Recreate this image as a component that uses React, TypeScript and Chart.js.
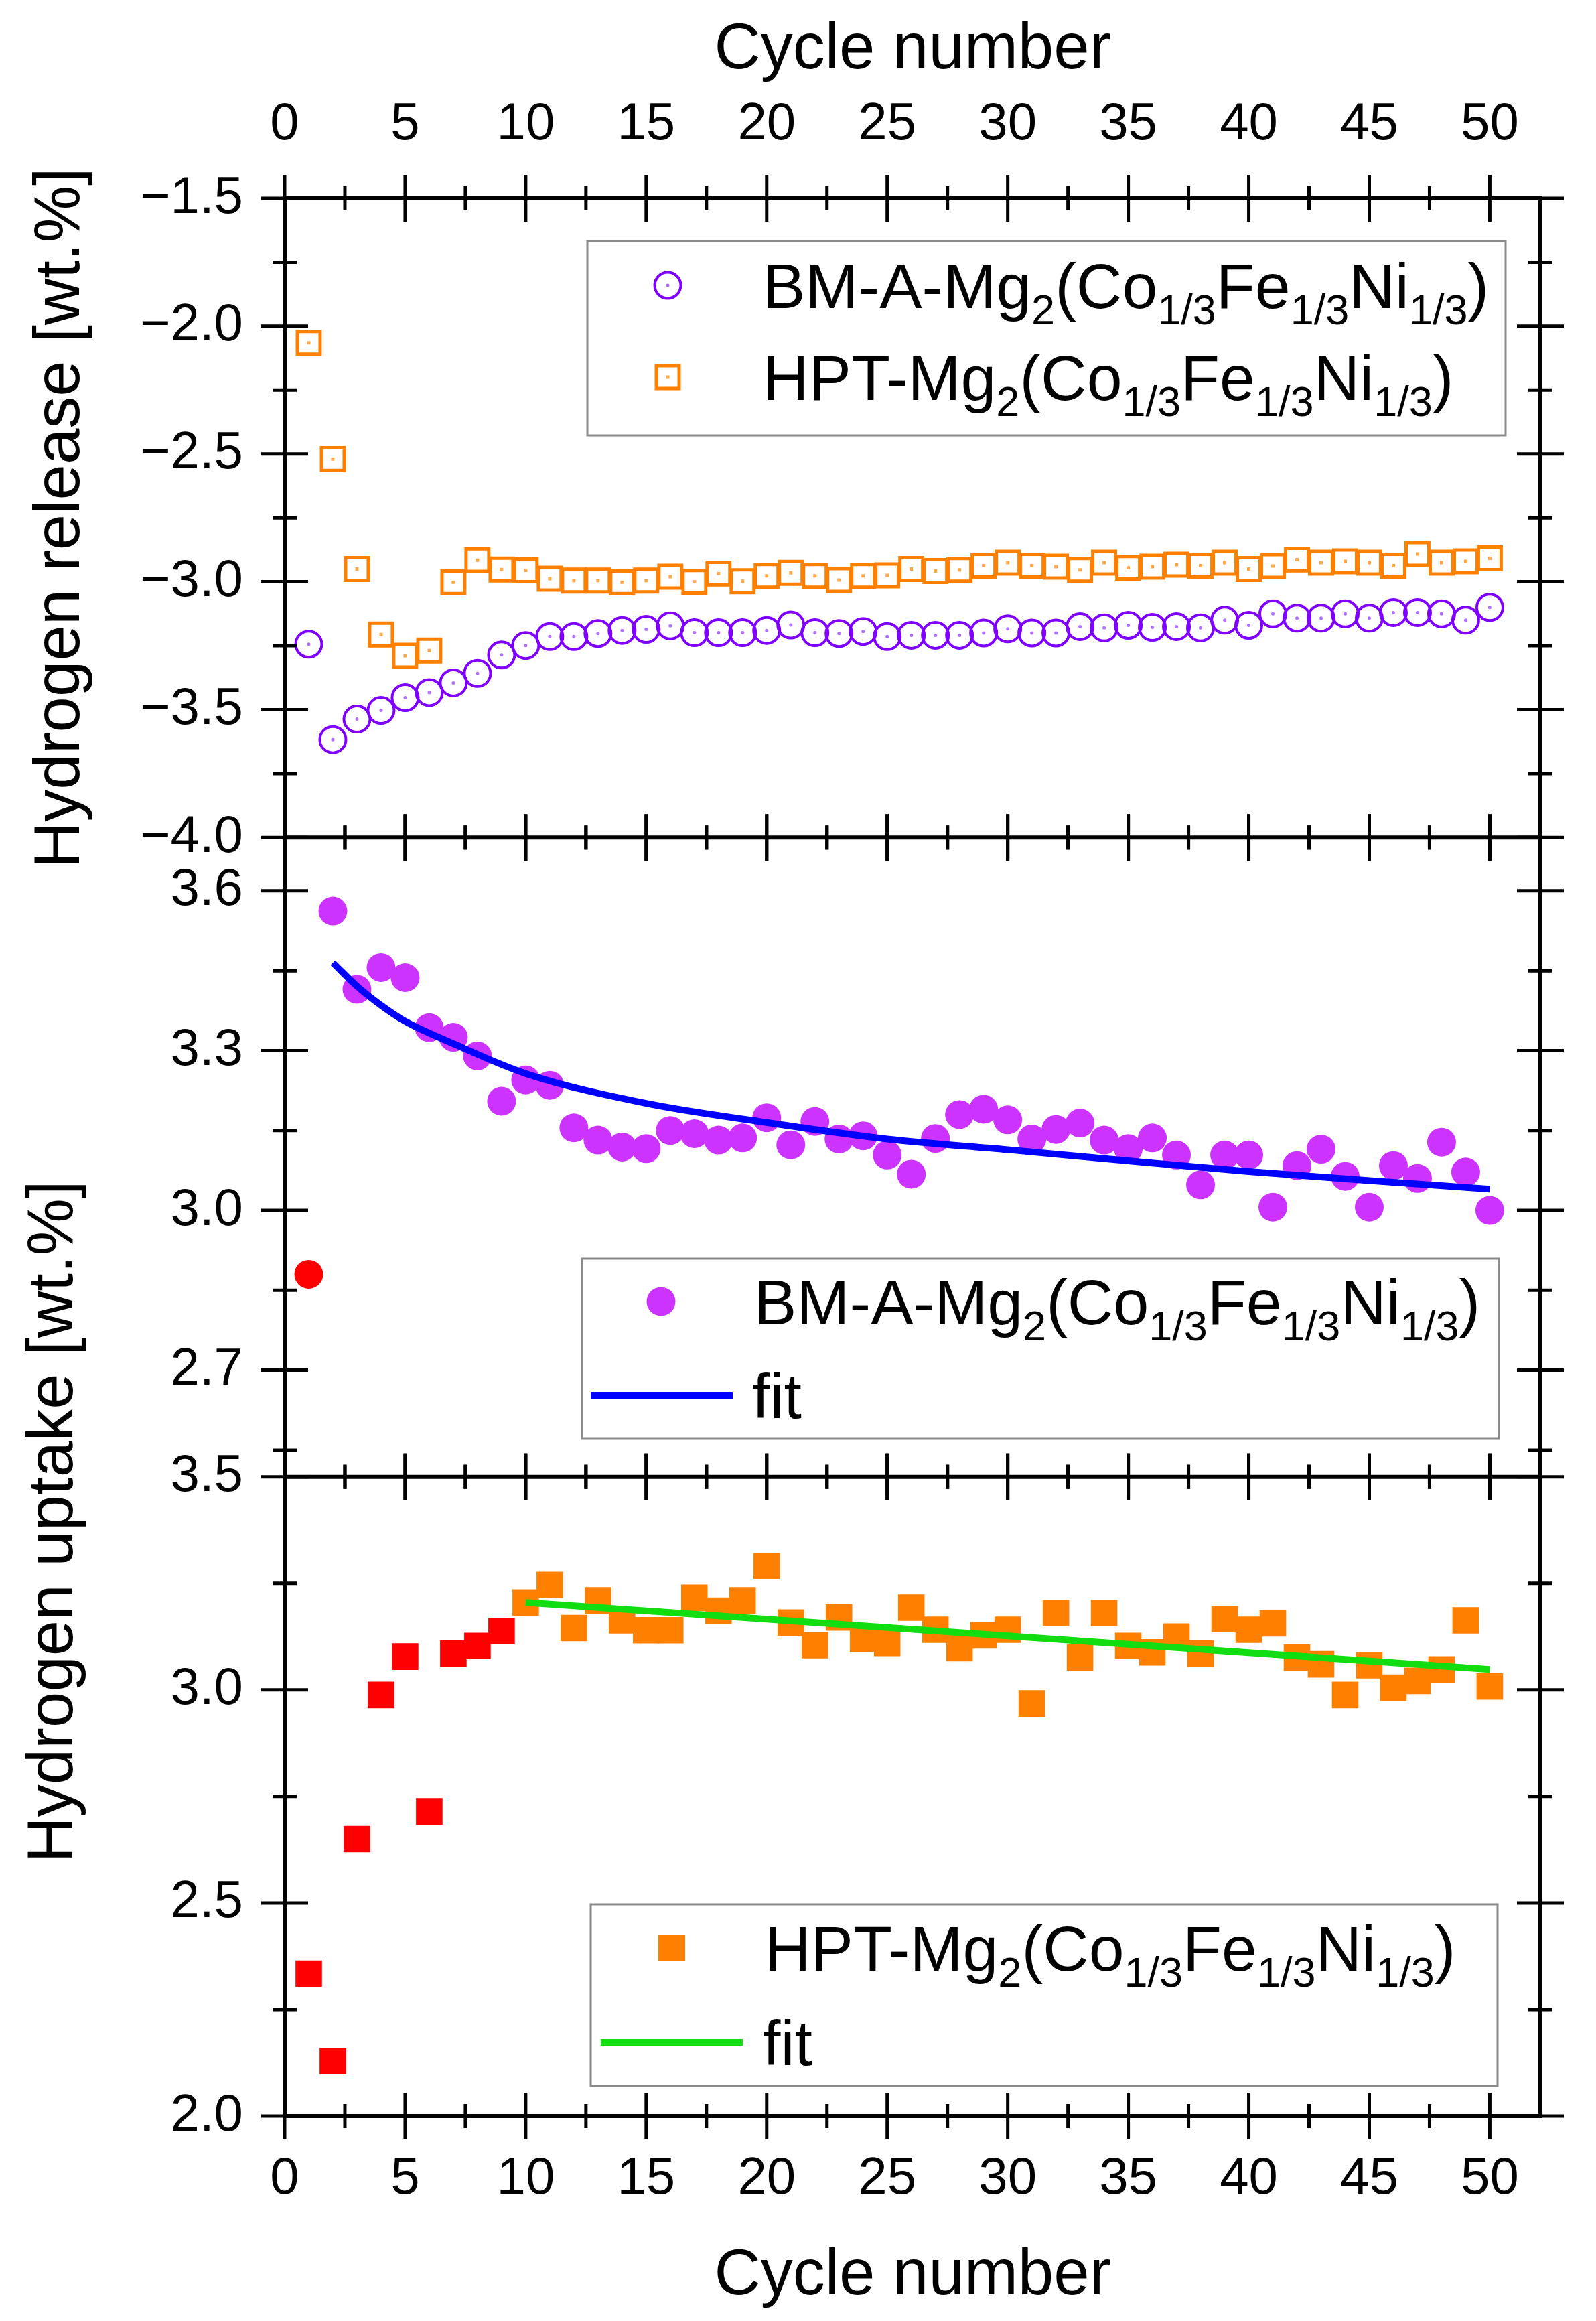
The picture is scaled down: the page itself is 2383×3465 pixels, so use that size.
import { useEffect, useRef } from "react";
import { Chart, registerables, type ChartConfiguration, type Plugin } from "chart.js";

Chart.register(...registerables);

const FONT = "'Liberation Sans', Arial, Helvetica, sans-serif";

const cycles = [
  1, 2, 3, 4, 5, 6, 7, 8, 9, 10, 11, 12, 13, 14, 15, 16, 17, 18, 19, 20, 21, 22, 23, 24, 25,
  26, 27, 28, 29, 30, 31, 32, 33, 34, 35, 36, 37, 38, 39, 40, 41, 42, 43, 44, 45, 46, 47, 48, 49, 50,
];

// top panel: hydrogen release
const releaseBm = [
  -3.244, -3.617, -3.537, -3.503, -3.453, -3.433, -3.395, -3.358, -3.286, -3.249,
  -3.214, -3.214, -3.202, -3.19, -3.186, -3.172, -3.199, -3.199, -3.199, -3.19,
  -3.169, -3.199, -3.202, -3.194, -3.214, -3.209, -3.209, -3.209, -3.2, -3.184,
  -3.2, -3.2, -3.175, -3.18, -3.17, -3.178, -3.175, -3.18, -3.15, -3.17,
  -3.125, -3.142, -3.142, -3.125, -3.142, -3.12, -3.12, -3.125, -3.15, -3.1,
];
const releaseHpt = [
  -2.065, -2.52, -2.95, -3.206, -3.289, -3.269, -3.002, -2.915, -2.952, -2.955,
  -2.988, -2.995, -2.995, -3.002, -2.995, -2.98, -3.0, -2.968, -2.998, -2.977,
  -2.965, -2.977, -2.993, -2.977, -2.975, -2.95, -2.958, -2.953, -2.937, -2.925,
  -2.937, -2.941, -2.953, -2.925, -2.945, -2.941, -2.933, -2.937, -2.925, -2.95,
  -2.938, -2.913, -2.925, -2.92, -2.925, -2.937, -2.891, -2.925, -2.92, -2.908,
];

// middle panel: BM-A uptake (cycle 1 drawn red)
const uptakeBm = [
  2.88, 3.562, 3.415, 3.456, 3.437, 3.343, 3.325, 3.29, 3.205, 3.245,
  3.235, 3.155, 3.132, 3.119, 3.116, 3.15, 3.144, 3.132, 3.136, 3.174,
  3.123, 3.167, 3.134, 3.14, 3.104, 3.068, 3.135, 3.18, 3.19, 3.17,
  3.134, 3.152, 3.164, 3.132, 3.116, 3.136, 3.104, 3.048, 3.104, 3.104,
  3.006, 3.084, 3.115, 3.064, 3.006, 3.084, 3.06, 3.128, 3.072, 3.0,
];
const bmFitX = [2, 3, 4, 5, 7, 10, 15, 20, 25, 30, 35, 40, 45, 50];
const bmFitY = [3.465, 3.421, 3.385, 3.355, 3.313, 3.257, 3.201, 3.165, 3.134, 3.114, 3.093, 3.073, 3.056, 3.04];
const bmFirstFitted = 2;

// bottom panel: HPT uptake (cycles 1-9 drawn red)
const uptakeHpt = [
  2.334, 2.129, 2.65, 2.988, 3.078, 2.715, 3.085, 3.103, 3.138, 3.205,
  3.246, 3.145, 3.21, 3.163, 3.14, 3.14, 3.216, 3.186, 3.21, 3.29,
  3.158, 3.105, 3.17, 3.12, 3.11, 3.193, 3.141, 3.098, 3.128, 3.141,
  2.968, 3.18, 3.076, 3.18, 3.103, 3.088, 3.125, 3.085, 3.166, 3.141,
  3.156, 3.076, 3.06, 2.988, 3.058, 3.005, 3.021, 3.048, 3.163, 3.008,
];
const hptFitX = [10, 50];
const hptFitY = [3.205, 3.048];
const hptFirstFitted = 10;

const xMajorTicks = [0, 5, 10, 15, 20, 25, 30, 35, 40, 45, 50];
const xMinorTicks = [2.5, 7.5, 12.5, 17.5, 22.5, 27.5, 32.5, 37.5, 42.5, 47.5];
const releaseMajorTicks = [-4.0, -3.5, -3.0, -2.5, -2.0, -1.5];
const releaseMinorTicks = [-3.75, -3.25, -2.75, -2.25, -1.75];
const bmMajorTicks = [2.7, 3.0, 3.3, 3.6];
const bmMinorTicks = [2.55, 2.85, 3.15, 3.45];
const hptMajorTicks = [2.0, 2.5, 3.0, 3.5];
const hptMinorTicks = [2.25, 2.75, 3.25];

const VIOLET = "#8000ff";
const VIOLET_DOT = "#b070ff";
const ORANGE = "#ff8000";
const ORANGE_DOT = "#ffa848";
const MAGENTA = "#cc33ff";
const RED = "#ff0000";
const BLUE = "#0000ff";
const GREEN = "#11dd11";

const W = 2383;
const H = 3465;

const points = (xs: number[], ys: number[]) => xs.map((x, i) => ({ x, y: ys[i] }));

const formatTick = (v: number) => (v < 0 ? `\u2212${Math.abs(v).toFixed(1)}` : v.toFixed(1));

type Segment = { text: string; sub?: boolean };
const compound = (prefix: string): Segment[] => [
  { text: `${prefix}-Mg` },
  { text: "2", sub: true },
  { text: "(Co" },
  { text: "1/3", sub: true },
  { text: "Fe" },
  { text: "1/3", sub: true },
  { text: "Ni" },
  { text: "1/3", sub: true },
  { text: ")" },
];

type Marker = "openCircle" | "openSquare" | "circle" | "square" | "line";
type LegendRow = { marker: Marker; color: string; y: number; markerX: number; textX: number; segments: Segment[] };
type LegendBox = { box: [number, number, number, number]; rows: LegendRow[] };

const legendBoxes: LegendBox[] = [
  {
    box: [877, 360, 2248, 650],
    rows: [
      { marker: "openCircle", color: VIOLET, y: 426, markerX: 997, textX: 1139, segments: compound("BM-A") },
      { marker: "openSquare", color: ORANGE, y: 563, markerX: 997, textX: 1139, segments: compound("HPT") },
    ],
  },
  {
    box: [869, 1879, 2238, 2148],
    rows: [
      { marker: "circle", color: MAGENTA, y: 1943, markerX: 987, textX: 1126, segments: compound("BM-A") },
      { marker: "line", color: BLUE, y: 2083, markerX: 988, textX: 1123, segments: [{ text: "fit" }] },
    ],
  },
  {
    box: [882, 2843, 2236, 3114],
    rows: [
      { marker: "square", color: ORANGE, y: 2908, markerX: 1003, textX: 1142, segments: compound("HPT") },
      { marker: "line", color: GREEN, y: 3049, markerX: 1003, textX: 1139, segments: [{ text: "fit" }] },
    ],
  },
];

function drawMarker(ctx: CanvasRenderingContext2D, marker: Marker, color: string, x: number, y: number) {
  ctx.save();
  if (marker === "openCircle") {
    ctx.strokeStyle = color;
    ctx.lineWidth = 4;
    ctx.beginPath();
    ctx.arc(x, y, 19.5, 0, Math.PI * 2);
    ctx.stroke();
    ctx.fillStyle = VIOLET_DOT;
    ctx.beginPath();
    ctx.arc(x, y, 2.5, 0, Math.PI * 2);
    ctx.fill();
  } else if (marker === "openSquare") {
    ctx.strokeStyle = color;
    ctx.lineWidth = 5;
    ctx.strokeRect(x - 17, y - 17, 34, 34);
    ctx.fillStyle = ORANGE_DOT;
    ctx.fillRect(x - 2.5, y - 2.5, 5, 5);
  } else if (marker === "circle") {
    ctx.fillStyle = color;
    ctx.beginPath();
    ctx.arc(x, y, 21.5, 0, Math.PI * 2);
    ctx.fill();
  } else if (marker === "square") {
    ctx.fillStyle = color;
    ctx.fillRect(x - 20, y - 20, 40, 40);
  } else {
    ctx.strokeStyle = color;
    ctx.lineWidth = 10;
    ctx.beginPath();
    ctx.moveTo(x - 106, y);
    ctx.lineTo(x + 106, y);
    ctx.stroke();
  }
  ctx.restore();
}

function drawRichText(ctx: CanvasRenderingContext2D, segments: Segment[], x: number, centerY: number) {
  const baseline = centerY + 34;
  let cx = x;
  ctx.fillStyle = "#000";
  ctx.textAlign = "left";
  ctx.textBaseline = "alphabetic";
  for (const seg of segments) {
    ctx.font = seg.sub ? `63px ${FONT}` : `95px ${FONT}`;
    ctx.fillText(seg.text, cx, seg.sub ? baseline + 24 : baseline);
    cx += ctx.measureText(seg.text).width;
  }
}

const panels = [
  { id: "yRelease", major: releaseMajorTicks, minor: releaseMinorTicks },
  { id: "yBm", major: bmMajorTicks, minor: bmMinorTicks },
  { id: "yHpt", major: hptMajorTicks, minor: hptMinorTicks },
];

const framePlugin: Plugin<"scatter"> = {
  id: "panelFrame",
  afterDraw(chart) {
    const ctx = chart.ctx;
    const xs = chart.scales.x;
    const { left, right, top, bottom } = chart.chartArea;
    const line = (x1: number, y1: number, x2: number, y2: number) => {
      ctx.beginPath();
      ctx.moveTo(x1, y1);
      ctx.lineTo(x2, y2);
      ctx.stroke();
    };
    ctx.save();
    ctx.strokeStyle = "#000";
    ctx.lineWidth = 6;
    ctx.strokeRect(left, top, right - left, bottom - top);
    for (const panel of panels) {
      const ys = chart.scales[panel.id];
      ctx.lineWidth = 6;
      line(left, ys.top, right, ys.top);
      ctx.lineWidth = 5;
      for (const edge of [ys.top, ys.bottom]) {
        for (const v of xMajorTicks) {
          const px = xs.getPixelForValue(v);
          line(px, edge - 35, px, edge + 35);
        }
        for (const v of xMinorTicks) {
          const px = xs.getPixelForValue(v);
          line(px, edge - 18, px, edge + 18);
        }
      }
      for (const side of [left, right]) {
        for (const v of panel.major) {
          const py = ys.getPixelForValue(v);
          line(side - 35, py, side + 35, py);
        }
        for (const v of panel.minor) {
          const py = ys.getPixelForValue(v);
          line(side - 18, py, side + 18, py);
        }
      }
    }

    // y title shared by the two uptake panels
    ctx.save();
    ctx.translate(82, 2272);
    ctx.rotate(-Math.PI / 2);
    ctx.fillStyle = "#000";
    ctx.font = `96px ${FONT}`;
    ctx.textAlign = "center";
    ctx.textBaseline = "middle";
    ctx.fillText("Hydrogen uptake [wt.%]", 0, 0);
    ctx.restore();

    for (const legend of legendBoxes) {
      const [x1, y1, x2, y2] = legend.box;
      ctx.strokeStyle = "#8a8a8a";
      ctx.lineWidth = 3;
      ctx.strokeRect(x1, y1, x2 - x1, y2 - y1);
      for (const row of legend.rows) {
        drawMarker(ctx, row.marker, row.color, row.markerX, row.y);
        drawRichText(ctx, row.segments, row.textX, row.y);
      }
    }
    ctx.restore();
  },
};

const tickFont = { family: FONT, size: 78 };
const titleFont = { family: FONT, size: 96 };

function yAxis(min: number, max: number, major: number[], title?: string) {
  return {
    type: "linear" as const,
    position: "left" as const,
    stack: "panels",
    stackWeight: 1,
    min,
    max,
    grid: { display: false, drawTicks: false },
    border: { display: false },
    ticks: {
      color: "#000",
      font: tickFont,
      padding: 62,
      autoSkip: false,
      callback: (v: number | string) => formatTick(Number(v)),
    },
    title: title
      ? { display: true, text: title, color: "#000", font: titleFont, padding: { top: 34, bottom: 0 } }
      : { display: false },
    afterBuildTicks: (axis: any) => {
      axis.ticks = major.map((value) => ({ value }));
    },
    afterFit: (axis: any) => {
      axis.width = 425;
    },
  };
}

function xAxis(position: "top" | "bottom") {
  return {
    type: "linear" as const,
    position,
    min: 0,
    max: 52.1,
    grid: { display: false, drawTicks: false },
    border: { display: false },
    ticks: {
      color: "#000",
      font: tickFont,
      padding: position === "top" ? 63 : 48,
      maxRotation: 0,
      autoSkip: false,
      callback: (v: number | string) => `${v}`,
    },
    title: {
      display: true,
      text: "Cycle number",
      color: "#000",
      font: titleFont,
      padding: position === "top" ? { top: 18, bottom: 0 } : { top: 0, bottom: 9 },
    },
    afterBuildTicks: (axis: any) => {
      axis.ticks = xMajorTicks.map((value) => ({ value }));
    },
    afterFit: (axis: any) => {
      axis.height = position === "top" ? 296 : H - 3159;
    },
  };
}

function buildConfig(): ChartConfiguration<"scatter"> {
  return {
    type: "scatter",
    data: {
      datasets: [
        {
          label: "BM fit",
          data: points(bmFitX, bmFitY),
          yAxisID: "yBm",
          xAxisID: "x",
          showLine: true,
          borderColor: BLUE,
          borderWidth: 10,
          pointRadius: 0,
          cubicInterpolationMode: "monotone",
          order: 0,
        },
        {
          label: "HPT fit",
          data: points(hptFitX, hptFitY),
          yAxisID: "yHpt",
          xAxisID: "x",
          showLine: true,
          borderColor: GREEN,
          borderWidth: 10,
          pointRadius: 0,
          order: 0,
        },
        {
          label: "BM-A release",
          data: points(cycles, releaseBm),
          yAxisID: "yRelease",
          xAxisID: "x",
          pointStyle: "circle",
          pointRadius: 19.5,
          borderWidth: 4,
          borderColor: VIOLET,
          backgroundColor: "rgba(0,0,0,0)",
          order: 2,
        },
        {
          label: "BM-A release centre",
          data: points(cycles, releaseBm),
          yAxisID: "yRelease",
          xAxisID: "x",
          pointStyle: "circle",
          pointRadius: 2.5,
          borderWidth: 0,
          backgroundColor: VIOLET_DOT,
          order: 1,
        },
        {
          label: "HPT release",
          data: points(cycles, releaseHpt),
          yAxisID: "yRelease",
          xAxisID: "x",
          pointStyle: "rect",
          pointRadius: 24,
          borderWidth: 5,
          borderColor: ORANGE,
          backgroundColor: "rgba(0,0,0,0)",
          order: 2,
        },
        {
          label: "HPT release centre",
          data: points(cycles, releaseHpt),
          yAxisID: "yRelease",
          xAxisID: "x",
          pointStyle: "rect",
          pointRadius: 3.5,
          borderWidth: 0,
          backgroundColor: ORANGE_DOT,
          order: 1,
        },
        {
          label: "BM-A uptake",
          data: points(cycles, uptakeBm),
          yAxisID: "yBm",
          xAxisID: "x",
          pointStyle: "circle",
          pointRadius: 21.5,
          borderWidth: 0,
          backgroundColor: (c: any) => (cycles[c.dataIndex] < bmFirstFitted ? RED : MAGENTA),
          order: 1,
        },
        {
          label: "HPT uptake",
          data: points(cycles, uptakeHpt),
          yAxisID: "yHpt",
          xAxisID: "x",
          pointStyle: "rect",
          pointRadius: 28,
          borderWidth: 0,
          backgroundColor: (c: any) => (cycles[c.dataIndex] < hptFirstFitted ? RED : ORANGE),
          order: 1,
        },
      ],
    },
    options: {
      responsive: false,
      maintainAspectRatio: false,
      devicePixelRatio: 1,
      animation: false,
      events: [],
      layout: { padding: { left: 0, right: W - 2300, top: 0, bottom: 0 } },
      plugins: {
        legend: { display: false },
        tooltip: { enabled: false },
      },
      scales: {
        x: xAxis("bottom"),
        xTop: xAxis("top"),
        yHpt: yAxis(2.0, 3.5, hptMajorTicks),
        yBm: yAxis(2.5, 3.7, bmMajorTicks),
        yRelease: yAxis(-4.0, -1.5, releaseMajorTicks, "Hydrogen release [wt.%]"),
      } as any,
    },
    plugins: [framePlugin],
  };
}

export default function App() {
  const canvasRef = useRef<HTMLCanvasElement>(null);

  useEffect(() => {
    if (!canvasRef.current) {
      return;
    }
    const chart = new Chart(canvasRef.current, buildConfig());
    return () => {
      chart.destroy();
    };
  }, []);

  return (
    <div style={{ position: "absolute", left: 0, top: 0, width: W, height: H, background: "#fff" }}>
      <canvas ref={canvasRef} width={W} height={H} style={{ display: "block", width: W, height: H }} />
    </div>
  );
}
